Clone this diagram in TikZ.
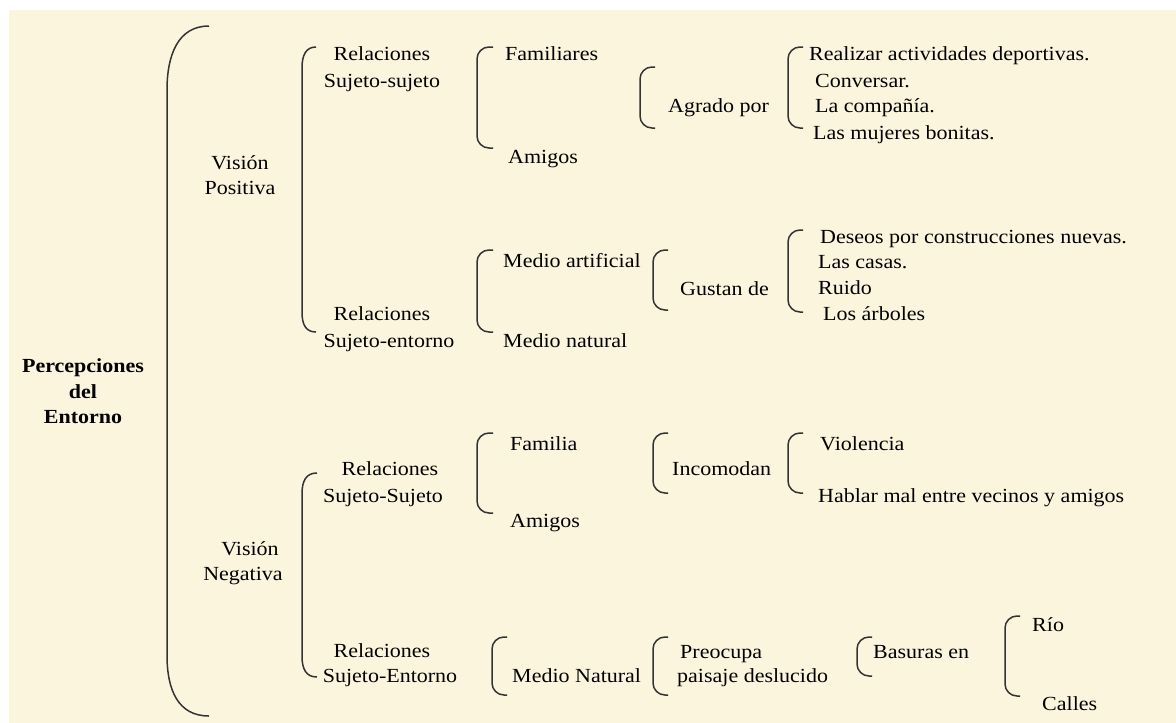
\documentclass[tikz,border=0pt]{standalone}
\usepackage{fontspec}
\setmainfont{Liberation Serif}[FakeStretch=1.1]
\definecolor{bg}{RGB}{252,245,222}
\newcommand{\sqbr}[4]{\draw[brk,rounded corners=12pt] (#2,#3) -- (#1,#3) -- (#1,#4) -- (#2,#4);}
\begin{document}
\begin{tikzpicture}[x=1pt,y=-1pt,
  lbl/.style={anchor=west, inner sep=0pt, yshift=-3pt, text height=0.7em, text depth=0.2em, font=\fontsize{20}{24}\selectfont},
  ctr/.style={lbl, anchor=center},
  ttl/.style={ctr, font=\fontsize{20}{24}\selectfont\bfseries},
  brk/.style={draw=black!80, line width=1.5pt}]
\useasboundingbox (0,0) rectangle (1176,723);
\fill[white] (0,0) rectangle (1176,723);
\fill[bg] (9,10) rectangle (1176,723);
% big bracket
\draw[brk] (209,26) .. controls (178,26) and (167,55) .. (167,90) -- (167,655) .. controls (167,690) and (178,716) .. (209,716);
% vision brackets
\draw[brk] (316,47) .. controls (306,47) and (302,55) .. (302,68) -- (302,312) .. controls (302,325) and (306,332) .. (316,332);
\draw[brk] (317,473) .. controls (306,473) and (302,481) .. (302,494) -- (302,656) .. controls (302,669) and (306,677) .. (317,677);
% small brackets
\sqbr{477}{493}{47}{148}
\sqbr{640}{655}{67}{128}
\sqbr{788}{803}{47}{128}
\sqbr{477}{493}{250}{332}
\sqbr{653}{668}{250}{310}
\sqbr{788}{803}{230}{312}
\sqbr{477}{493}{433}{513}
\sqbr{653}{668}{433}{493}
\sqbr{788}{803}{433}{493}
\sqbr{492}{507}{637}{695}
\sqbr{653}{668}{637}{695}
\sqbr{857}{872}{637}{676}
\sqbr{1005}{1020}{616}{696}
% title
\node[ttl] (t1) at (83,367) {Percepciones};
\node[ttl] (t2) at (83,393) {del};
\node[ttl] (t3) at (83,418) {Entorno};
% vision
\node[ctr] (vp1) at (240,164) {Visión};
\node[ctr] (vp2) at (240,189) {Positiva};
\node[ctr] (vn1) at (250,550) {Visión};
\node[ctr] (vn2) at (243,575) {Negativa};
% relaciones
\node[ctr] (rss1) at (382,55) {Relaciones};
\node[ctr] (rss2) at (382,82) {Sujeto-sujeto};
\node[ctr] (rse1) at (382,315) {Relaciones};
\node[ctr] (rse2) at (389,342) {Sujeto-entorno};
\node[ctr] (nrs1) at (390,470) {Relaciones};
\node[ctr] (nrs2) at (383,497) {Sujeto-Sujeto};
\node[ctr] (nre1) at (382,652) {Relaciones};
\node[ctr] (nre2) at (390,677) {Sujeto-Entorno};
% level 3
\node[lbl] (fam) at (505,55) {Familiares};
\node[lbl] (ami) at (508,158) {Amigos};
\node[lbl] (ma) at (503,262) {Medio artificial};
\node[lbl] (mn) at (503,342) {Medio natural};
\node[lbl] (nfam) at (510,445) {Familia};
\node[lbl] (nami) at (510,522) {Amigos};
\node[lbl] (mnat) at (512,677) {Medio Natural};
% level 4
\node[lbl] (agr) at (668,107) {Agrado por};
\node[lbl] (gus) at (680,290) {Gustan de};
\node[lbl] (inc) at (672,470) {Incomodan};
\node[lbl] (pre1) at (680,653) {Preocupa};
\node[lbl] (pre2) at (677,677) {paisaje deslucido};
% level 5
\node[lbl] (r1) at (809,55) {Realizar actividades deportivas.};
\node[lbl] (r2) at (815,82) {Conversar.};
\node[lbl] (r3) at (815,107) {La compañía.};
\node[lbl] (r4) at (813,134) {Las mujeres bonitas.};
\node[lbl] (g1) at (820,238) {Deseos por construcciones nuevas.};
\node[lbl] (g2) at (818,263) {Las casas.};
\node[lbl] (g3) at (818,289) {Ruido};
\node[lbl] (g4) at (823,315) {Los árboles};
\node[lbl] (vio) at (820,445) {Violencia};
\node[lbl] (hab) at (818,497) {Hablar mal entre vecinos y amigos};
\node[lbl] (bas) at (873,653) {Basuras en};
\node[lbl] (rio) at (1032,626) {Río};
\node[lbl] (cal) at (1042,705) {Calles};
\end{tikzpicture}
\end{document}
